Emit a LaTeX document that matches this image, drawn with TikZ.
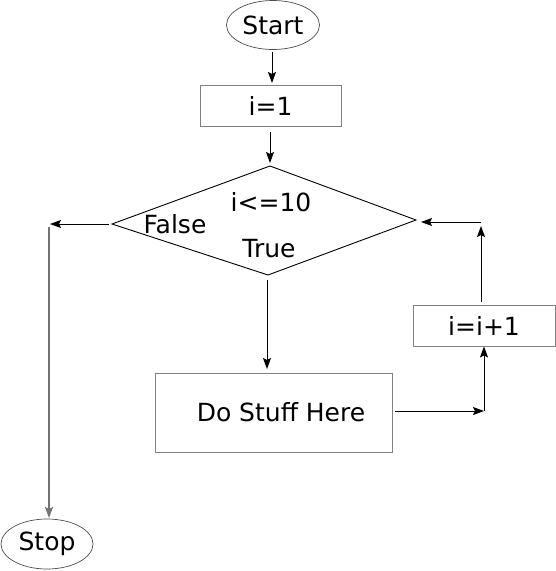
\documentclass[tikz,border=0pt]{standalone}
\usepackage{fontspec}
\setmainfont{DejaVu Sans}
\usetikzlibrary{arrows.meta,shapes.geometric}
\begin{document}
\begin{tikzpicture}[x=1pt,y=-1pt,
  every node/.style={font=\fontsize{25}{28}\selectfont, inner sep=0pt},
  oval/.style={draw=black!70, line width=0.7pt, ellipse},
  boxnode/.style={draw=black!50, line width=0.9pt, rectangle},
  arr/.style={-{Stealth[length=11pt,width=8pt,inset=2pt]}, line width=1pt, draw=black},
  garr/.style={-{Stealth[length=11pt,width=8pt,inset=2pt]}, line width=1.3pt, draw=black!55}]
\useasboundingbox (0,0) rectangle (556,571);
% shapes
\node[oval, minimum width=93pt, minimum height=49pt] (start) at (273,25) {Start};
\node[boxnode, minimum width=141pt, minimum height=41pt] (init) at (270.5,105.5) {i=1};
\coordinate (dt) at (270,166);
\coordinate (dl) at (112,224);
\coordinate (dr) at (416,220);
\coordinate (db) at (268,275);
\draw[line width=0.9pt] (dt) -- (dr) -- (db) -- (dl) -- cycle;
\node (cond) at (271,202) {i<=10};
\node (false) at (175,224) {False};
\node (true) at (269,249) {True};
\node[boxnode, minimum width=237pt, minimum height=79pt] (work) at (273.5,412.5) {};
\node (worktext) at (281,412) {Do Stuff Here};
\node[boxnode, minimum width=142pt, minimum height=41pt] (inc) at (484,325.5) {i=i+1};
\node[oval, minimum width=92pt, minimum height=50pt] (stop) at (47,544) {Stop};
% connector points
\coordinate (a1s) at (272,52);
\coordinate (a1e) at (272,83);
\coordinate (a2s) at (270,132);
\coordinate (a2e) at (270,163);
\coordinate (fs) at (109,224);
\coordinate (fe) at (50,224);
\coordinate (vs) at (49,227);
\coordinate (ve) at (49,518);
\coordinate (ts) at (267,280);
\coordinate (te) at (267,369);
\coordinate (ws) at (395,411);
\coordinate (wc) at (484,411);
\coordinate (us) at (481,302);
\coordinate (ue) at (481,226);
\coordinate (bs) at (481,222);
\coordinate (be) at (421,222);
% connectors
\draw[arr] (a1s) -- (a1e);
\draw[arr] (a2s) -- (a2e);
\draw[arr] (fs) -- (fe);
\draw[garr] (vs) -- (ve);
\draw[arr] (ts) -- (te);
\draw[arr] (ws) -- (wc);
\draw[arr] (wc) -- (inc.south);
\draw[arr] (us) -- (ue);
\draw[arr] (bs) -- (be);
\end{tikzpicture}
\end{document}
